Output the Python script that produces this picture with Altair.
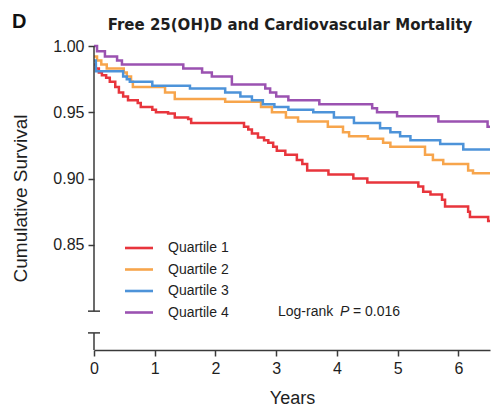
import altair as alt
import pandas as pd

quartiles = ["Quartile 1", "Quartile 2", "Quartile 3", "Quartile 4"]
colors = ["#e8353c", "#f7a54c", "#4d93d9", "#9b52b1"]

q1_years = [0, 0.03, 0.08, 0.13, 0.20, 0.26, 0.35, 0.41, 0.48, 0.56, 0.72, 0.77, 0.96, 1.02, 1.22, 1.33,
            1.55, 1.60, 2.47, 2.54, 2.60, 2.70, 2.80, 2.87, 2.95, 3.01, 3.15, 3.34, 3.43, 3.51, 3.86, 4.27,
            4.50, 5.34, 5.42, 5.54, 5.73, 5.78, 6.16, 6.19, 6.49, 6.52]
q1_surv = [0.986, 0.983, 0.980, 0.978, 0.976, 0.973, 0.969, 0.965, 0.962, 0.959, 0.957, 0.954, 0.952, 0.950,
           0.949, 0.946, 0.945, 0.942, 0.939, 0.937, 0.934, 0.931, 0.929, 0.927, 0.924, 0.921, 0.918, 0.914,
           0.911, 0.906, 0.903, 0.900, 0.897, 0.894, 0.890, 0.888, 0.884, 0.879, 0.875, 0.871, 0.868, 0.868]

q2_years = [0, 0.05, 0.12, 0.21, 0.49, 0.54, 0.61, 0.64, 1.17, 1.33, 2.16, 2.75, 2.93, 3.16, 3.36, 3.85,
            4.10, 4.20, 4.51, 4.76, 4.88, 5.45, 5.58, 5.75, 6.16, 6.24, 6.52]
q2_surv = [0.992, 0.989, 0.986, 0.983, 0.980, 0.977, 0.973, 0.969, 0.965, 0.960, 0.958, 0.954, 0.950, 0.946,
           0.943, 0.939, 0.935, 0.932, 0.930, 0.927, 0.924, 0.918, 0.914, 0.911, 0.906, 0.904, 0.904]

q3_years = [0, 0.03, 0.48, 0.54, 0.59, 0.96, 1.58, 2.16, 2.41, 2.60, 2.78, 2.97, 3.20, 3.61, 3.95, 4.28,
            4.71, 4.88, 5.04, 5.21, 5.70, 6.08, 6.52]
q3_surv = [0.989, 0.981, 0.977, 0.975, 0.973, 0.970, 0.968, 0.965, 0.962, 0.959, 0.956, 0.954, 0.952, 0.950,
           0.946, 0.942, 0.938, 0.935, 0.932, 0.929, 0.926, 0.922, 0.922]

q4_years = [0, 0.05, 0.18, 0.38, 0.46, 1.47, 1.78, 1.94, 2.27, 2.82, 2.90, 3.00, 3.20, 3.71, 4.58, 4.66,
            4.99, 5.67, 6.48, 6.52]
q4_surv = [1.000, 0.996, 0.992, 0.989, 0.986, 0.983, 0.980, 0.977, 0.971, 0.968, 0.965, 0.962, 0.959, 0.956,
           0.953, 0.950, 0.947, 0.943, 0.939, 0.939]

x_ticks = [0, 1, 2, 3, 4, 5, 6]
y_ticks = [0.85, 0.90, 0.95, 1.00]
logrank_p = "0.016"
title_text = "Free 25(OH)D and Cardiovascular Mortality"

# ---- build long table ----
frames = []
for name, yrs, sv in zip(quartiles, [q1_years, q2_years, q3_years, q4_years],
                         [q1_surv, q2_surv, q3_surv, q4_surv]):
    frames.append(pd.DataFrame({"years": yrs, "surv": sv, "group": name}))
df = pd.concat(frames, ignore_index=True)

X_MAX = 6.52
Y_MIN = 0.7707
BREAK_TOP = 0.80
BREAK_BOT = 0.7836
FONT = "Liberation Sans"
AXIS_COLOR = "#3a3a3a"
TEXT_COLOR = "#1e1e1e"

xs = alt.Scale(domain=[0, X_MAX], nice=False, zero=False)
ys = alt.Scale(domain=[Y_MIN, 1.0], nice=False, zero=False)

curves = alt.Chart(df).mark_line(interpolate="step-after", strokeWidth=2.5).encode(
    x=alt.X("years:Q", scale=xs,
            axis=alt.Axis(values=x_ticks, format="d", title="Years", grid=False, labelFlush=False,
                          domainColor=AXIS_COLOR, domainWidth=1.5, tickColor=AXIS_COLOR,
                          tickWidth=1.5, tickSize=6, labelFontSize=16, labelPadding=4,
                          labelColor=TEXT_COLOR, titleFontSize=18, titleFontWeight="normal",
                          titleColor=TEXT_COLOR, titlePadding=13, labelFont=FONT, titleFont=FONT)),
    y=alt.Y("surv:Q", scale=ys,
            axis=alt.Axis(values=y_ticks, format=".2f", title="Cumulative Survival", grid=False,
                          labelFlush=False,
                          domain=False, tickColor=AXIS_COLOR, tickWidth=1.5, tickSize=6,
                          labelFontSize=16, labelPadding=4, labelColor=TEXT_COLOR,
                          titleFontSize=19, titleFontWeight="normal", titleColor=TEXT_COLOR,
                          titlePadding=22, labelFont=FONT, titleFont=FONT)),
    color=alt.Color("group:N", scale=alt.Scale(domain=quartiles, range=colors), legend=None),
    order=alt.Order("years:Q"),
)

# broken y axis
seg_df = pd.DataFrame({"top": [1.0, BREAK_BOT], "bot": [BREAK_TOP, Y_MIN]})
axis_segments = alt.Chart(seg_df).mark_rule(color=AXIS_COLOR, strokeWidth=1.5).encode(
    x=alt.value(0), y=alt.Y("top:Q", scale=ys), y2="bot:Q")
cap_df = pd.DataFrame({"yv": [BREAK_TOP, BREAK_BOT]})
caps = alt.Chart(cap_df).mark_rule(color=AXIS_COLOR, strokeWidth=1.5).encode(
    x=alt.value(-6), x2=alt.value(6), y=alt.Y("yv:Q", scale=ys))

layers = [curves, axis_segments, caps]

# custom legend
LEG_X0, LEG_X1, LEG_TX, LEG_Y0, LEG_STEP = 31, 59, 74, 202, 21.5
for i, (name, col) in enumerate(zip(quartiles, colors)):
    d = pd.DataFrame({"label": [name]})
    layers.append(alt.Chart(d).mark_rule(color=col, strokeWidth=2.6).encode(
        x=alt.value(LEG_X0), x2=alt.value(LEG_X1), y=alt.value(LEG_Y0 + i * LEG_STEP)))
    layers.append(alt.Chart(d).mark_text(align="left", baseline="middle", fontSize=14, font=FONT,
                                         color=TEXT_COLOR).encode(
        text="label:N", x=alt.value(LEG_TX), y=alt.value(LEG_Y0 + i * LEG_STEP)))

# log-rank annotation
LR_Y = 266
lr_parts = [("Log-rank", 184, "normal"), ("P", 246, "italic"), ("= " + logrank_p, 259, "normal")]
for txt, xp, style in lr_parts:
    d = pd.DataFrame({"t": [txt]})
    layers.append(alt.Chart(d).mark_text(align="left", baseline="middle", fontSize=14, font=FONT,
                                         fontStyle=style, color=TEXT_COLOR).encode(
        text="t:N", x=alt.value(xp), y=alt.value(LR_Y)))

# chart title (as text so that it sits at a fixed spot)
layers.append(alt.Chart(pd.DataFrame({"t": [title_text]})).mark_text(
    align="center", baseline="middle", fontSize=15, fontWeight="bold", font="DejaVu Sans",
    color=TEXT_COLOR).encode(
    text="t:N", x=alt.value(196), y=alt.value(-21)))

# panel letter
layers.append(alt.Chart(pd.DataFrame({"t": ["D"]})).mark_text(
    align="left", baseline="middle", fontSize=20, fontWeight="bold", font=FONT, color="#111").encode(
    text="t:N", x=alt.value(-82), y=alt.value(-24)))

chart = alt.layer(*layers).properties(
    width=396, height=304,
    autosize=alt.AutoSizeParams(type="none"),
    padding={"left": 94, "top": 46, "right": 12, "bottom": 56},
).configure_view(stroke=None)

chart.save("out.html", embed_options={"renderer": "svg", "actions": False})
